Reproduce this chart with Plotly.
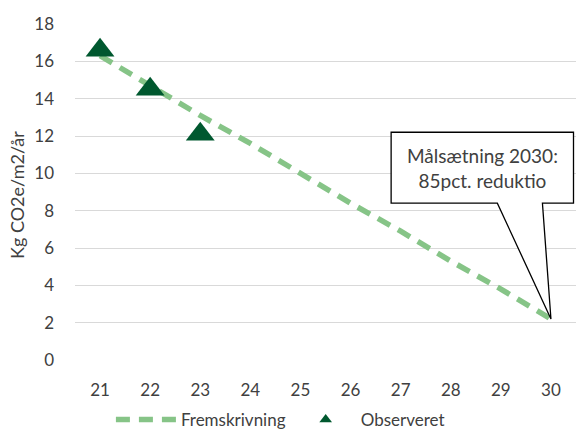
import plotly.graph_objects as go

# Years (last two digits) on the category axis
years = [21, 22, 23, 24, 25, 26, 27, 28, 29, 30]
# Projected path towards the 2030 target (kg CO2e/m2/year)
projection = [16.3, 14.7, 13.1, 11.6, 10.0, 8.4, 6.9, 5.3, 3.8, 2.2]
# Observed values
obs_years = [21, 22, 23]
observed = [16.6, 14.5, 12.1]

y_ticks = [0, 2, 4, 6, 8, 10, 12, 14, 16, 18]

FONT = "Lato"
TEXT = "#404040"
LIGHT = "#86c487"
DARK = "#00582f"

fig = go.Figure()
fig.add_trace(go.Scatter(
    x=years, y=projection, mode="lines", name="Fremskrivning",
    line=dict(color=LIGHT, width=5.5, dash="14px,9px"),
))
fig.add_trace(go.Scatter(
    x=obs_years, y=observed, mode="markers", name="Observeret",
    marker=dict(symbol="triangle-up", size=25, color=DARK), showlegend=False,
))
# Legend entry with a smaller symbol for the observed series
fig.add_trace(go.Scatter(
    x=[None], y=[None], mode="markers", name="Observeret",
    marker=dict(symbol="triangle-up", size=11, color=DARK),
))

# Speech-bubble callout pointing to the 2030 target
bx0, bx1, by0, by1 = 26.81, 30.45, 8.4, 12.2
px0, px1 = 28.93, 29.83
tip_x, tip_y = years[-1], projection[-1]
path = (f"M {bx0},{by1} L {bx1},{by1} L {bx1},{by0} L {px1},{by0} "
        f"L {tip_x},{tip_y} L {px0},{by0} L {bx0},{by0} Z")
fig.add_shape(type="path", path=path, xref="x", yref="y",
              fillcolor="white", line=dict(color="black", width=1.3))
fig.add_annotation(x=(bx0 + bx1) / 2, y=(by0 + by1) / 2, xref="x", yref="y",
                   text="Målsætning 2030:<br>85pct. reduktio", showarrow=False,
                   font=dict(family=FONT, size=19, color=TEXT), align="center")

# Y-axis title
fig.add_annotation(x=17, y=195, xref="paper", yref="paper", text="Kg CO2e/m2/år",
                   showarrow=False, textangle=-90,
                   font=dict(family=FONT, size=18, color=TEXT))

fig.update_layout(
    width=576, height=430,
    margin=dict(l=75, r=0, t=24, b=70, autoexpand=False),
    paper_bgcolor="white", plot_bgcolor="white",
    font=dict(family=FONT, size=17, color=TEXT),
    showlegend=True,
    legend=dict(orientation="h", x=0.41, xanchor="center",
                y=10 / 430, yref="container", yanchor="middle",
                font=dict(family=FONT, size=17, color=TEXT), itemwidth=60,
                tracegroupgap=0),
)
# Place the y title annotation in pixel terms
fig.layout.annotations[-1].update(
    x=(17 - 75) / 501, y=(360 - 195) / 336, xanchor="center", yanchor="middle")

fig.update_xaxes(
    range=[20.5, 30.5], tickmode="array", tickvals=years,
    ticktext=[str(y) for y in years], showgrid=False, zeroline=False,
    showline=False, ticks="", ticklabelstandoff=18, automargin=False,
)
fig.update_yaxes(
    range=[0, 18], tickmode="array", tickvals=y_ticks,
    showgrid=True, gridcolor="#d9d9d9", gridwidth=1.3, zeroline=False,
    showline=False, ticks="", ticklabelstandoff=20, automargin=False,
)

fig.write_html("out.html")
